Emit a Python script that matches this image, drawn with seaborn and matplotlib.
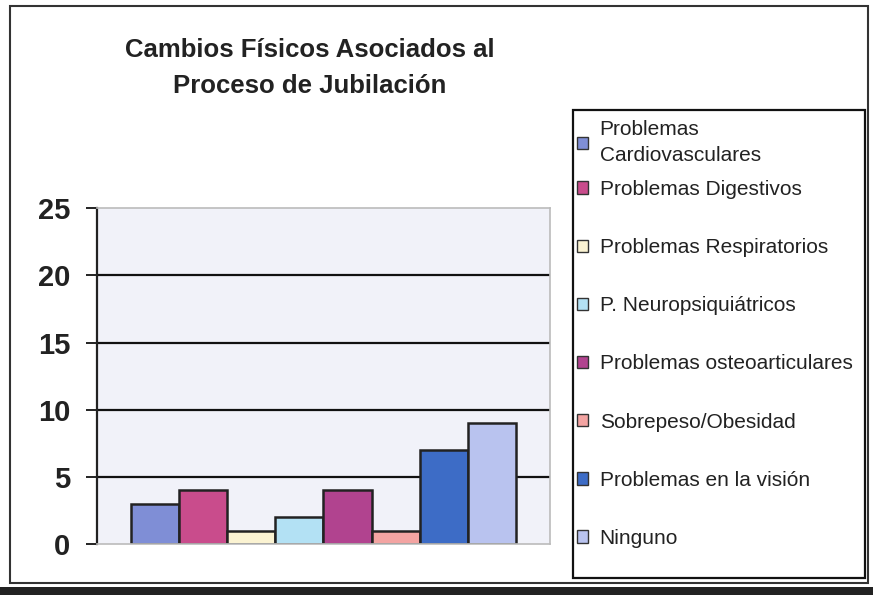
""" Cambios fisicos asociados al proceso de jubilacion """
import matplotlib
matplotlib.use('Agg')
import matplotlib.pyplot as plt
from matplotlib.patches import Rectangle
import pandas as pd
import seaborn as sns

categorias = ['Problemas\nCardiovasculares', 'Problemas Digestivos',
              'Problemas Respiratorios', 'P. Neuropsiquiátricos',
              'Problemas osteoarticulares', 'Sobrepeso/Obesidad',
              'Problemas en la visión', 'Ninguno']
valores = [3, 4, 1, 2, 4, 1, 7, 9]
colores = ['#7f8ed6', '#c94c8c', '#fbf3d2', '#b3e1f4',
           '#b1438f', '#f3a4a2', '#3d6cc6', '#b9c3ef']
ticks_y = [0, 5, 10, 15, 20, 25]

sns.set_style('white')
plt.rcParams['font.family'] = ['Liberation Sans', 'DejaVu Sans']

df = pd.DataFrame({'grupo': [''] * len(valores), 'valor': valores,
                   'categoria': categorias})

fig = plt.figure(figsize=(8.73, 5.95), dpi=100)
ax = fig.add_axes([0.111, 0.0857, 0.519, 0.5643])
ax.set_facecolor('#f1f2f9')

sns.barplot(data=df, x='grupo', y='valor', hue='categoria',
            hue_order=categorias, palette=colores, width=0.85,
            edgecolor='#222222', linewidth=1.8, saturation=1, ax=ax)

ax.set_xlim(-0.5, 0.5)
ax.set_ylim(0, 25)
ax.set_yticks(ticks_y)
ax.set_yticklabels([str(t) for t in ticks_y], fontsize=21, fontweight='bold')
ax.set_xticks([])
ax.set_xlabel('')
ax.set_ylabel('')
for t in ticks_y[1:-1]:
    ax.axhline(t, color='#111111', linewidth=1.6, zorder=0.5)
ax.tick_params(axis='y', length=8, width=1.4, color='#222222', pad=11,
               left=True, labelcolor='#222222')
for side in ['top', 'right', 'bottom']:
    ax.spines[side].set_color('#bbbbbb')
    ax.spines[side].set_linewidth(1.2)
ax.spines['left'].set_color('#222222')
ax.spines['left'].set_linewidth(1.6)

fig.text(0.355, 0.886, 'Cambios Físicos Asociados al\nProceso de Jubilación',
         ha='center', va='center', fontsize=18.5, fontweight='bold',
         linespacing=1.65, color='#222222')

# leyenda: la primera entrada va aparte porque ocupa dos lineas
handles, labels = ax.get_legend_handles_labels()
ax.get_legend().remove()
opts = dict(loc='upper left', bbox_transform=fig.transFigure, frameon=False,
            fontsize=15, handlelength=0.53, handleheight=0.53,
            handletextpad=0.55, borderpad=0, borderaxespad=0)
leg1 = ax.legend(handles[:1], labels[:1], bbox_to_anchor=(0.661, 0.798), **opts)
leg1.get_texts()[0].set_linespacing(1.45)
ax.add_artist(leg1)
leg2 = ax.legend(handles[1:], labels[1:], bbox_to_anchor=(0.661, 0.6975),
                 labelspacing=1.88, **opts)
for leg in (leg1, leg2):
    for h in leg.legend_handles:
        h.set_edgecolor('#333333')
        h.set_linewidth(1.0)
    for txt in leg.get_texts():
        txt.set_color('#222222')
fig.patches.append(Rectangle((573 / 873, 1 - 578 / 595), 292 / 873, 468 / 595,
                             transform=fig.transFigure, fill=False,
                             edgecolor='#111111', linewidth=1.6))

# marco exterior del grafico
fig.patches.append(Rectangle((0.012, 0.02), 0.982, 0.97, transform=fig.transFigure,
                             fill=False, edgecolor='#333333', linewidth=1.5))
fig.patches.append(Rectangle((0.0, 0.0), 1.0, 0.014, transform=fig.transFigure,
                             facecolor='#222222', edgecolor='none'))

fig.savefig('out.png', dpi=100)
